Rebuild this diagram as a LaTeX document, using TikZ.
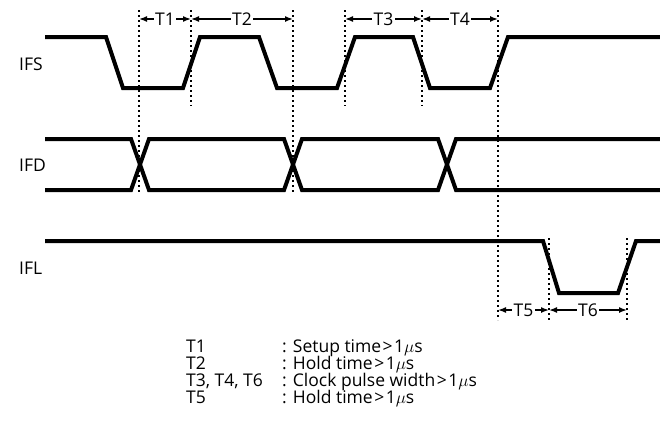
\documentclass[tikz,border=0pt]{standalone}
\usepackage{fontspec}
\setmainfont{Open Sans}
\usetikzlibrary{arrows.meta}
\newcommand{\gtr}{\kern1.5pt>\kern1.5pt}
\begin{document}
\begin{tikzpicture}[x=1pt,y=-1pt,
  signal/.style={line width=4pt, line join=miter},
  guide/.style={line width=1.8pt, dash pattern=on 2pt off 3pt},
  dim/.style={line width=1.5pt, {Latex[length=8pt,width=6pt]}-{Latex[length=8pt,width=6pt]}},
  dimlabel/.style={fill=white, inner sep=1.5pt, font=\fontsize{17.5}{19}\selectfont},
  siglabel/.style={anchor=west, inner sep=0pt, font=\fontsize{17.5}{19}\selectfont},
  legend/.style={anchor=base west, inner sep=0pt, font=\fontsize{17.5}{19}\selectfont}]
\useasboundingbox (0,0) rectangle (660,423);
% guide (dotted) lines
\coordinate (g1t) at (139,10);  \coordinate (g1b) at (139,192);
\coordinate (g2t) at (191,10);  \coordinate (g2b) at (191,106);
\coordinate (g3t) at (293,10);  \coordinate (g3b) at (293,192);
\coordinate (g4t) at (345,10);  \coordinate (g4b) at (345,106);
\coordinate (g5t) at (422,10);  \coordinate (g5b) at (422,106);
\coordinate (g6t) at (498,10);  \coordinate (g6b) at (498,320);
\coordinate (g7t) at (549,238); \coordinate (g7b) at (549,320);
\coordinate (g8t) at (627,238); \coordinate (g8b) at (627,320);
\foreach \i in {1,...,8} {\draw[guide] (g\i t) -- (g\i b);}
% IFS
\node[siglabel] (ifs) at (19,64) {IFS};
\draw[signal] (45,37) -- (106,37) -- (123,88) -- (183,88) -- (200,37) -- (259,37)
  -- (277,88) -- (337,88) -- (355,37) -- (413,37) -- (430,88) -- (490,88)
  -- (508,37) -- (660,37);
% IFD
\node[siglabel] (ifd) at (19,165) {IFD};
\draw[signal] (45,139) -- (131,139) -- (149,190) -- (284,190) -- (302,139)
  -- (438,139) -- (456,190) -- (660,190);
\draw[signal] (45,190) -- (131,190) -- (149,139) -- (284,139) -- (302,190)
  -- (438,190) -- (456,139) -- (660,139);
% IFL
\node[siglabel] (ifl) at (19,268) {IFL};
\draw[signal] (45,241) -- (543,241) -- (559,293) -- (618,293) -- (636,241) -- (660,241);
% dimension arrows
\coordinate (a1) at (139,19); \coordinate (a2) at (191,19); \coordinate (a3) at (293,19);
\coordinate (a4) at (345,19); \coordinate (a5) at (422,19); \coordinate (a6) at (498,19);
\coordinate (b1) at (498,310); \coordinate (b2) at (549,310); \coordinate (b3) at (627,310);
\draw[dim] (a1) -- (a2) node[midway, dimlabel] (t1) {T1};
\draw[dim] (a2) -- (a3) node[midway, dimlabel] (t2) {T2};
\draw[dim] (a4) -- (a5) node[midway, dimlabel] (t3) {T3};
\draw[dim] (a5) -- (a6) node[midway, dimlabel] (t4) {T4};
\draw[dim] (b1) -- (b2) node[midway, dimlabel] (t5) {T5};
\draw[dim] (b2) -- (b3) node[midway, dimlabel] (t6) {T6};
% legend
\node[legend] (l1a) at (186,352) {T1};
\node[legend] (l1b) at (282,352) {: Setup time\gtr1$\mu$s};
\node[legend] (l2a) at (186,369) {T2};
\node[legend] (l2b) at (282,369) {: Hold time\gtr1$\mu$s};
\node[legend] (l3a) at (186,386) {T3, T4, T6};
\node[legend] (l3b) at (282,386) {: Clock pulse width\gtr1$\mu$s};
\node[legend] (l4a) at (186,403) {T5};
\node[legend] (l4b) at (282,403) {: Hold time\gtr1$\mu$s};
\end{tikzpicture}
\end{document}
